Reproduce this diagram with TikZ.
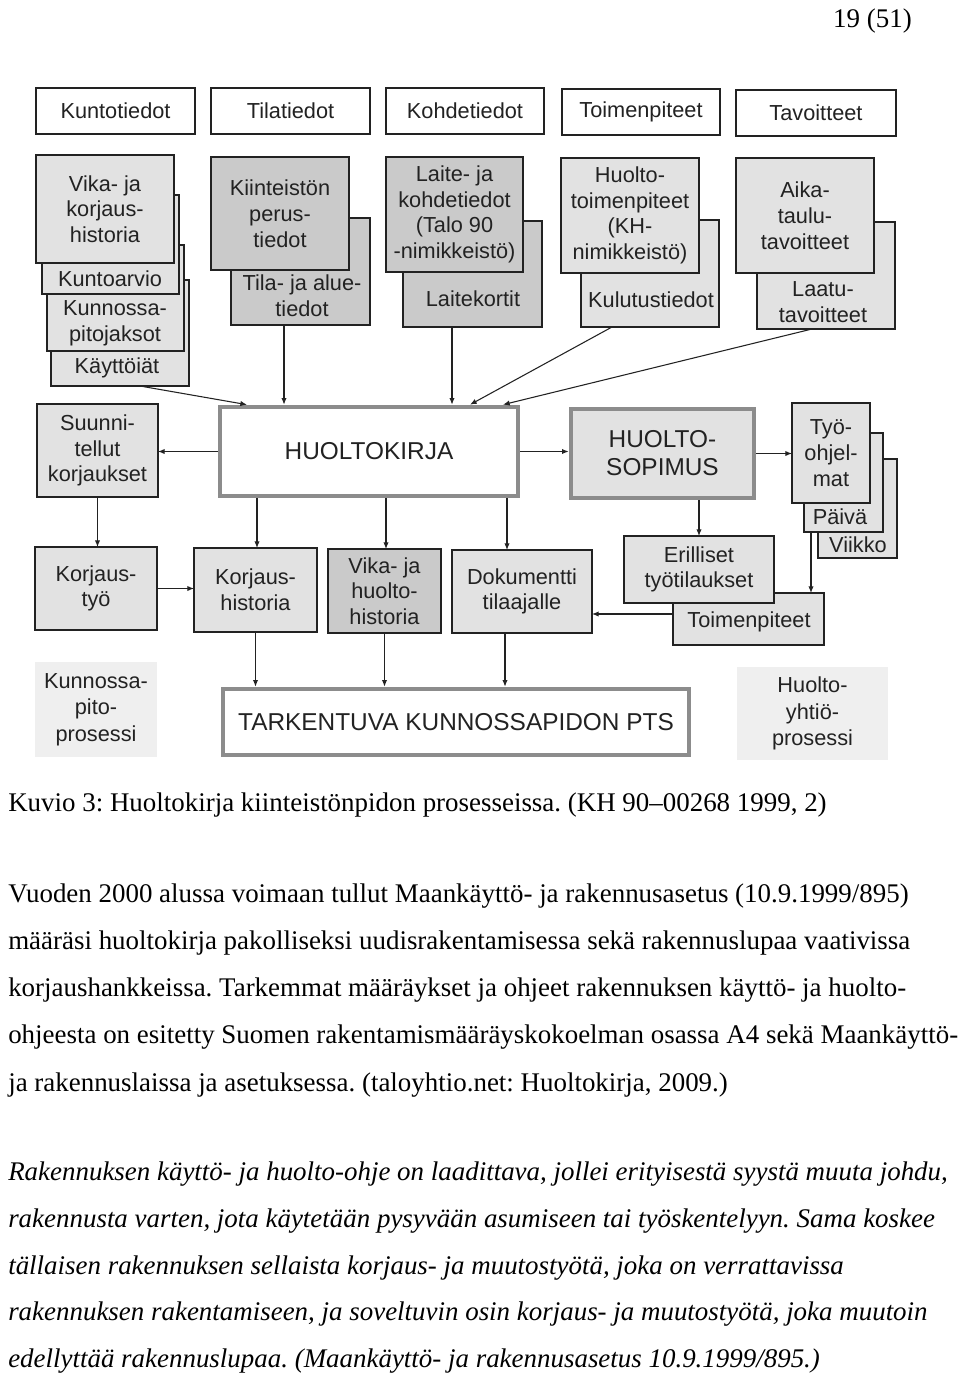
\documentclass[tikz,border=0pt]{standalone}
\usepackage{fontspec}
\setmainfont{Liberation Serif}
\newfontfamily\diagfont{Liberation Sans}
\usepackage{tikz}
\usetikzlibrary{arrows.meta, positioning}
\frenchspacing
\definecolor{ink}{HTML}{222222}
\definecolor{cardlight}{HTML}{E2E2E2}
\definecolor{carddark}{HTML}{CACACA}
\definecolor{procfill}{HTML}{EFEFEF}
\definecolor{rimgray}{HTML}{8C8C8C}
\tikzset{
  boxat/.style args={#1,#2,#3,#4}{at={({(#1+#3)/2},{(#2+#4)/2})},
    minimum width={(#3-#1)*0.75pt}, minimum height={(#4-#2)*0.75pt}},
  base/.style={inner sep=0pt, outer sep=0pt, align=center, text=ink,
    font=\diagfont\fontsize{16.3}{19.3}\selectfont},
  title/.style={base, draw=ink, line width=0.8pt, fill=white},
  card/.style={base, draw=ink, line width=0.8pt, fill=cardlight},
  dcard/.style={card, fill=carddark},
  rim/.style={base, draw=rimgray, line width=3.5pt, outer sep=1.75pt,
    font=\diagfont\fontsize{18.3}{21}\selectfont},
  proc/.style={base, fill=procfill, font=\diagfont\fontsize{16.3}{20}\selectfont},
  arr/.style={-{Latex[length=5pt,width=4pt]}, line width=0.8pt, draw=ink},
  body/.style={anchor=base west, inner sep=0pt, font=\fontsize{20.2}{24}\selectfont}
}
\begin{document}
\begin{tikzpicture}[x=0.75pt, y=-0.75pt]
\useasboundingbox (0,0) rectangle (960,1375);
% page number
\node[anchor=base east, inner sep=0pt, font=\fontsize{20.2}{24}\selectfont] (pagenr) at (912,27) {19 (51)};

% headings
\node[title, boxat={36,88,195,134}] (kuntot) {Kuntotiedot};
\node[title, boxat={211,88,370,134}] (tilat) {Tilatiedot};
\node[title, boxat={386,88,544,134}] (kohdet) {Kohdetiedot};
\node[title, boxat={562,89,720,135}] (toimet) {Toimenpiteet};
\node[title, boxat={736,90,896,136}] (tavoit) {Tavoitteet};

% kuntotiedot stack
\node[card, boxat={51,280,189,386}] (kaytto) {};
\node[card, boxat={47,245,184,351}] (kpjaks) {};
\node[card, boxat={42,195,179,294}] (karvio) {};
\node[card, boxat={36,155,174,263}] (vikakorj) {Vika- ja\\korjaus-\\historia};
\node[base] (karvio-t) at (110,279) {Kuntoarvio};
\node[base] (kpjaks-t) at (115,323) {Kunnossa-\\pitojaksot};
\node[base] (kaytto-t) at (117,368) {Käyttöiät};

% tilatiedot stack
\node[dcard, boxat={231,218,370,325}] (tila) {};
\node[dcard, boxat={211,157,349,270}] (kiint) {Kiinteistön\\perus-\\tiedot};
\node[base] (tila-t) at (302,296) {Tila- ja alue-\\tiedot};

% kohdetiedot stack
\node[dcard, boxat={403,221,542,327}] (laitek) {};
\node[dcard, boxat={386,157,523,272}] (laite) {Laite- ja\\kohdetiedot\\(Talo 90\\-nimikkeistö)};
\node[base] (laitek-t) at (473,299) {Laitekortit};

% toimenpiteet stack
\node[card, boxat={581,220,719,327}] (kulutus) {};
\node[card, boxat={561,158,699,273}] (hto) {Huolto-\\toimenpiteet\\(KH-\\nimikkeistö)};
\node[base] (kulutus-t) at (651,300) {Kulutustiedot};

% tavoitteet stack
\node[card, boxat={757,222,895,329}] (laatu) {};
\node[card, boxat={736,158,874,273}] (aika) {Aika-\\taulu-\\tavoitteet};
\node[base] (laatu-t) at (823,302) {Laatu-\\tavoitteet};

% middle row
\node[card, boxat={37,404,158,497}] (suunn) {Suunni-\\tellut\\korjaukset};
\node[rim, fill=white, boxat={220,407,518,496}] (kirja) {HUOLTOKIRJA};
\node[rim, fill=cardlight, boxat={571,409,754,498}] (sopimus) {HUOLTO-\\SOPIMUS};
\node[card, boxat={818,459,897,558}] (viikko) {};
\node[card, boxat={804,433,883,532}] (paiva) {};
\node[card, boxat={792,403,870,503}] (tyo) {Työ-\\ohjel-\\mat};
\node[base] (paiva-t) at (840,517) {Päivä};
\node[base] (viikko-t) at (858,545) {Viikko};

% third row
\node[card, boxat={35,547,157,630}] (korjtyo) {Korjaus-\\työ};
\node[card, boxat={194,548,317,632}] (korjhist) {Korjaus-\\historia};
\node[dcard, boxat={328,549,441,633}] (vikahuolto) {Vika- ja\\huolto-\\historia};
\node[card, boxat={452,550,592,633}] (dok) {Dokumentti\\tilaajalle};
\node[card, boxat={673,593,824,645}] (toimen2) {};
\node[card, boxat={624,536,774,603}] (erill) {Erilliset\\työtilaukset};
\node[base] (toimen2-t) at (749,622) {Toimenpiteet};

% bottom row
\node[proc, boxat={35,662,157,757}] (kprosessi) {Kunnossa-\\pito-\\prosessi};
\node[rim, fill=white, boxat={223,689,689,755}] (pts) {TARKENTUVA KUNNOSSAPIDON PTS};
\node[proc, boxat={737,667,888,760}] (hprosessi) {Huolto-\\yhtiö-\\prosessi};

% into the huoltokirja
\draw[arr] ([shift={(20,0)}]kaytto.south) -- ([shift={(-122,0)}]kirja.north);
\draw[arr] ([shift={(-16.5,0)}]tila.south) -- ([shift={(-85,0)}]kirja.north);
\draw[arr] ([shift={(-20.5,0)}]laitek.south) -- ([shift={(83,0)}]kirja.north);
\draw[arr] ([shift={(-38,0)}]kulutus.south) -- ([shift={(101,0)}]kirja.north);
\draw[arr] ([shift={(-14,0)}]laatu.south) -- ([shift={(134,0)}]kirja.north);

% out of the huoltokirja
\draw[arr] (kirja.west) -- (kirja.west -| suunn.east);
\draw[arr] (suunn.south) -- (suunn.south |- korjtyo.north);
\draw[arr] ([shift={(-112,0)}]kirja.south) -- ([shift={(1.5,0)}]korjhist.north);
\draw[arr] ([shift={(17,0)}]kirja.south) -- ([shift={(1.5,0)}]vikahuolto.north);
\draw[arr] ([shift={(138,0)}]kirja.south) -- ([shift={(-15,0)}]dok.north);
\draw[arr] (kirja.east) -- (kirja.east -| sopimus.west);
\draw[arr] (sopimus.east) -- (sopimus.east -| tyo.west);
\draw[arr] (erill.north |- sopimus.south) -- (erill.north);
\draw[arr] ([shift={(-32.5,0)}]paiva.south) -- ([shift={(62.5,0)}]toimen2.north);
\draw[arr] ([shift={(0,-5)}]toimen2.west) -- ([shift={(0,22.5)}]dok.east);
\draw[arr] (korjtyo.east) -- (korjtyo.east -| korjhist.west);
\draw[arr] (korjhist.south) -- (korjhist.south |- pts.north);
\draw[arr] (vikahuolto.south) -- (vikahuolto.south |- pts.north);
\draw[arr] ([shift={(-17,0)}]dok.south) -- ([shift={(49,0)}]pts.north);

% text below the figure
\node[body] (caption) at (8,811) {Kuvio 3: Huoltokirja kiinteistönpidon prosesseissa. (KH 90–00268 1999, 2)};
\node[body] (par1a) at (8,902) {Vuoden 2000 alussa voimaan tullut Maankäyttö- ja rakennusasetus (10.9.1999/895)};
\node[body] (par1b) at (8,949) {määräsi huoltokirja pakolliseksi uudisrakentamisessa sekä rakennuslupaa vaativissa};
\node[body] (par1c) at (8,996) {korjaushankkeissa. Tarkemmat määräykset ja ohjeet rakennuksen käyttö- ja huolto-};
\node[body] (par1d) at (8,1043) {ohjeesta on esitetty Suomen rakentamismääräyskokoelman osassa A4 sekä Maankäyttö-};
\node[body] (par1e) at (8,1091) {ja rakennuslaissa ja asetuksessa. (taloyhtio.net: Huoltokirja, 2009.)};
\node[body, font=\fontsize{20.2}{24}\selectfont\itshape] (par2a) at (8,1180) {Rakennuksen käyttö- ja huolto-ohje on laadittava, jollei erityisestä syystä muuta johdu,};
\node[body, font=\fontsize{20.2}{24}\selectfont\itshape] (par2b) at (8,1227) {rakennusta varten, jota käytetään pysyvään asumiseen tai työskentelyyn. Sama koskee};
\node[body, font=\fontsize{20.2}{24}\selectfont\itshape] (par2c) at (8,1274) {tällaisen rakennuksen sellaista korjaus- ja muutostyötä, joka on verrattavissa};
\node[body, font=\fontsize{20.2}{24}\selectfont\itshape] (par2d) at (8,1320) {rakennuksen rakentamiseen, ja soveltuvin osin korjaus- ja muutostyötä, joka muutoin};
\node[body, font=\fontsize{20.2}{24}\selectfont\itshape] (par2e) at (8,1367) {edellyttää rakennuslupaa. (Maankäyttö- ja rakennusasetus 10.9.1999/895.)};
\end{tikzpicture}
\end{document}
